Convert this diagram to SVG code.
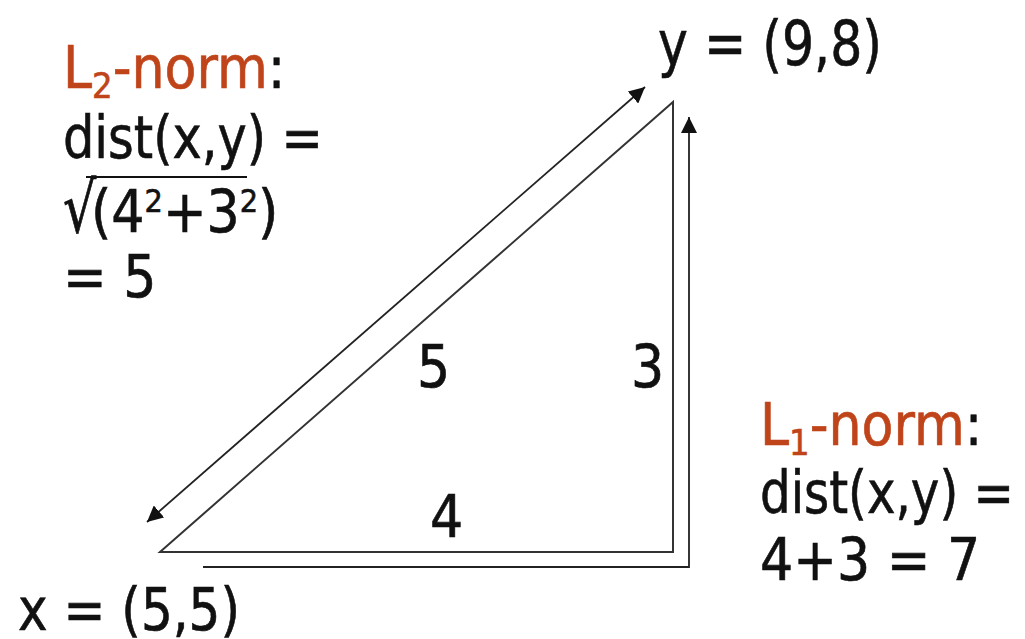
<svg xmlns="http://www.w3.org/2000/svg" width="1025" height="639" viewBox="0 0 1025 639">
  <style>
    text { font-family: "DejaVu Sans Condensed", "DejaVu Sans", "Liberation Sans", sans-serif; font-size: 58px; fill: #111; stroke: #111; stroke-width: 0.6px; }
    .red { fill: #c0441a; stroke: #c0441a; }
    .sub { font-size: 36px; }
    .sup { font-size: 32px; }
    .edge { stroke: #333; stroke-width: 2; fill: none; }
    .arrow { stroke: #222; stroke-width: 1.8; fill: none; }
  </style>
  <defs>
    <marker id="ah" viewBox="0 0 10 10" refX="10" refY="5" markerWidth="16" markerHeight="16" markerUnits="userSpaceOnUse" orient="auto-start-reverse">
      <path d="M0,0 L10,5 L0,10 z" fill="#111"/>
    </marker>
  </defs>
  <rect width="1025" height="639" fill="#fff"/>

  <g id="triangle">
    <polygon class="edge" points="160,552 673,102 673,552"/>
  </g>

  <g id="connectors">
    <line class="arrow" x1="147" y1="522" x2="645" y2="87" marker-start="url(#ah)" marker-end="url(#ah)"/>
    <polyline class="arrow" points="203,567 689,567 689,117" marker-end="url(#ah)"/>
  </g>

  <g id="edge-labels">
    <text x="417" y="387">5</text>
    <text x="631" y="387">3</text>
    <text x="430" y="537">4</text>
  </g>

  <g id="point-x">
    <text x="18" y="630" textLength="222" lengthAdjust="spacingAndGlyphs" style="font-size:58px">x = (5,5)</text>
  </g>
  <g id="point-y">
    <text x="658" y="65" textLength="224" lengthAdjust="spacingAndGlyphs" style="font-size:62px">y = (9,8)</text>
  </g>

  <g id="l2-norm">
    <text x="63" y="88"><tspan class="red">L</tspan><tspan class="red sub" dy="10">2</tspan><tspan class="red" dy="-10">-norm</tspan>:</text>
    <text x="63" y="158" textLength="260" lengthAdjust="spacingAndGlyphs">dist(x,y) =</text>
    <text transform="translate(63,232) scale(1,1.2)" x="0" y="0">√</text>
    <text x="91" y="232">(4<tspan class="sup" dy="-20">2</tspan><tspan dy="20">+3</tspan><tspan class="sup" dy="-20">2</tspan><tspan dy="20">)</tspan></text>
    <line x1="86" y1="177" x2="247" y2="177" stroke="#111" stroke-width="2"/>
    <text x="63" y="297">= 5</text>
  </g>

  <g id="l1-norm">
    <text x="760" y="445"><tspan class="red">L</tspan><tspan class="red sub" dy="10">1</tspan><tspan class="red" dy="-10">-norm</tspan>:</text>
    <text x="760" y="513" textLength="254" lengthAdjust="spacingAndGlyphs">dist(x,y) =</text>
    <text x="760" y="580">4+3 = 7</text>
  </g>
</svg>
